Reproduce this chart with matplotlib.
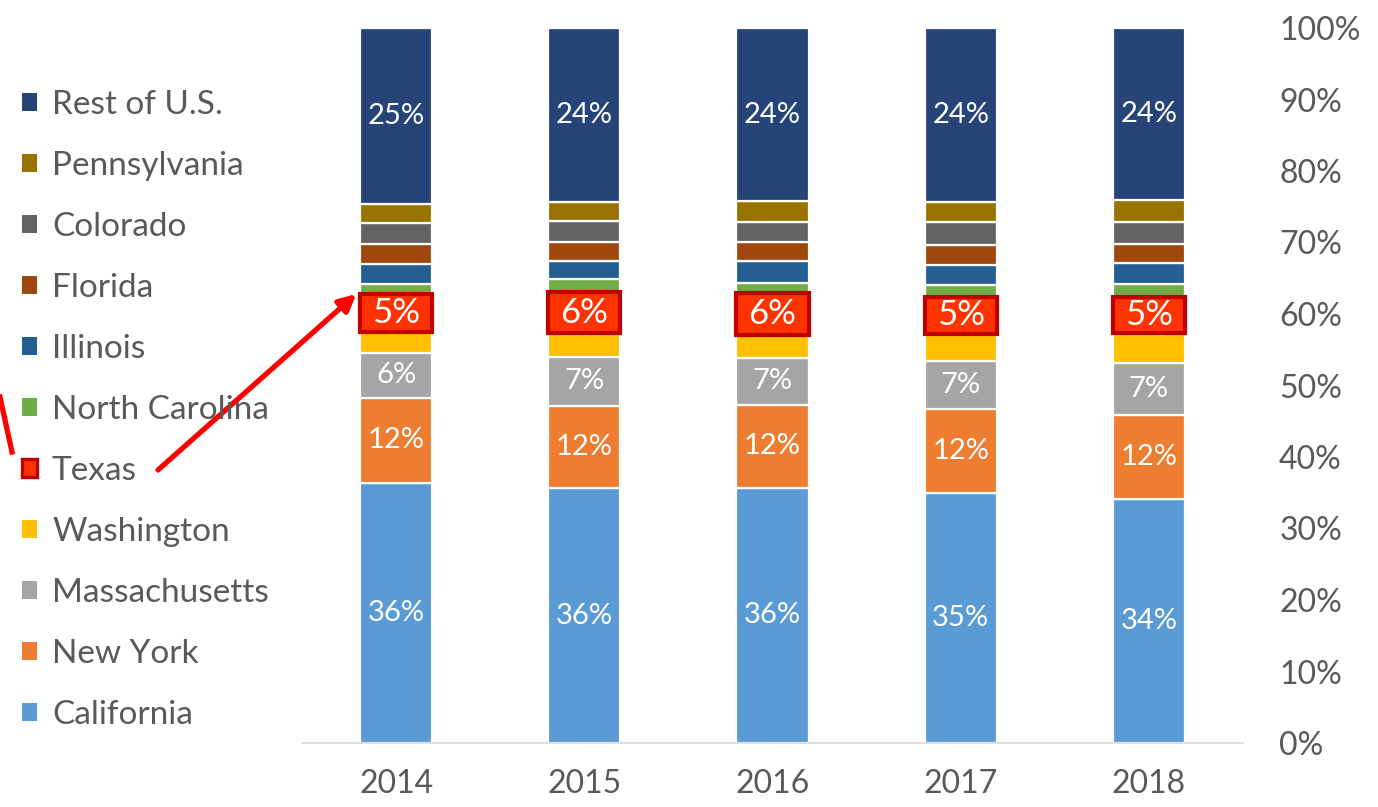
import matplotlib
matplotlib.use("Agg")
import matplotlib.pyplot as plt
from matplotlib.patches import Patch
from matplotlib.lines import Line2D
import numpy as np

plt.rcParams["font.family"] = ["Lato", "DejaVu Sans"]

years = ["2014", "2015", "2016", "2017", "2018"]
states = ["California", "New York", "Massachusetts", "Washington", "Texas",
          "North Carolina", "Illinois", "Florida", "Colorado", "Pennsylvania",
          "Rest of U.S."]

# share of total, % (bottom to top)
california = [36.4, 35.6, 35.7, 35.0, 34.1]
new_york = [11.9, 11.6, 11.6, 11.7, 11.8]
massachusetts = [6.2, 6.8, 6.6, 6.7, 7.2]
washington = [3.0, 3.3, 3.2, 3.8, 4.2]
texas = [5.3, 5.8, 5.8, 5.2, 5.1]
north_carolina = [1.4, 1.8, 1.4, 1.7, 1.8]
illinois = [2.8, 2.5, 3.1, 2.8, 2.9]
florida = [2.8, 2.7, 2.7, 2.8, 2.7]
colorado = [2.9, 2.9, 2.8, 3.2, 3.1]
pennsylvania = [2.7, 2.6, 2.9, 2.7, 3.0]
rest_of_us = [24.6, 24.4, 24.2, 24.4, 24.1]

series = [california, new_york, massachusetts, washington, texas,
          north_carolina, illinois, florida, colorado, pennsylvania, rest_of_us]
colors = ["#5B9BD5", "#ED7D31", "#A5A5A5", "#FFC000", "#FF3300",
          "#70AD47", "#255E91", "#9E480E", "#636363", "#997300", "#264478"]
labelled = {"California", "New York", "Massachusetts", "Texas", "Rest of U.S."}

W, H = 1378, 807
fig = plt.figure(figsize=(W / 100, H / 100), dpi=100)
ax = fig.add_axes([302 / W, 1 - 743 / H, (1243 - 302) / W, (743 - 28) / H])

x = np.arange(len(years))
width = 0.383
bottom = np.zeros(len(years))
handles = []
for name, vals, col in zip(states, series, colors):
    vals = np.array(vals)
    if name == "Texas":
        ax.bar(x, vals, width, bottom=bottom, color=col,
               edgecolor="#C00000", linewidth=3, zorder=4)
        handles.append(Patch(facecolor=col, edgecolor="#C00000", linewidth=2.4,
                             label=name))
        fs = 25
    else:
        ax.bar(x, vals, width, bottom=bottom, color=col,
               edgecolor="white", linewidth=1.6, zorder=2)
        handles.append(Patch(facecolor=col, edgecolor="none", label=name))
        fs = 21
    if name in labelled:
        for xi, b, v in zip(x, bottom, vals):
            ax.text(xi, b + v / 2, f"{round(v)}%", ha="center", va="center",
                    color="white", fontsize=fs, zorder=5)
    bottom += vals

ax.set_xlim(-0.5, len(years) - 0.5)
ax.set_ylim(0, 100)
ax.set_xticks(x)
ax.set_xticklabels(years)
ax.yaxis.tick_right()
ax.set_yticks(np.arange(0, 101, 10))
ax.set_yticklabels([f"{v}%" for v in range(0, 101, 10)])
ax.tick_params(axis="both", length=0, labelsize=23, colors="#595959")
ax.tick_params(axis="y", pad=26)
ax.tick_params(axis="x", pad=19)
for s in ["top", "left", "right"]:
    ax.spines[s].set_visible(False)
ax.spines["bottom"].set_color("#D9D9D9")
ax.spines["bottom"].set_linewidth(1.2)

fig.legend(handles=handles[::-1], loc="center left",
           bbox_to_anchor=(22 / W, 1 - 410 / H), frameon=False,
           fontsize=24, labelcolor="#595959", handlelength=0.45,
           handleheight=0.45, handletextpad=0.45, labelspacing=0.93,
           borderpad=0, borderaxespad=0)

# arrow from the legend entry to the 2014 Texas segment
tex_bottom = california[0] + new_york[0] + massachusetts[0] + washington[0]
ax.annotate("", xy=(x[0] - width / 2 - 0.02, tex_bottom + texas[0]),
            xycoords="data", xytext=(158, H - 470), textcoords="figure pixels",
            arrowprops=dict(arrowstyle="-|>,head_length=1.0,head_width=0.5",
                            color="#FF0000", lw=3.8, shrinkA=0, shrinkB=0),
            annotation_clip=False, zorder=6)
# cut-off arrow tail at the left edge
fig.add_artist(Line2D([0 / W, 12 / W], [1 - 397 / H, 1 - 452 / H],
                      color="#FF0000", lw=3.8, transform=fig.transFigure))

fig.savefig("out.png", dpi=100)
